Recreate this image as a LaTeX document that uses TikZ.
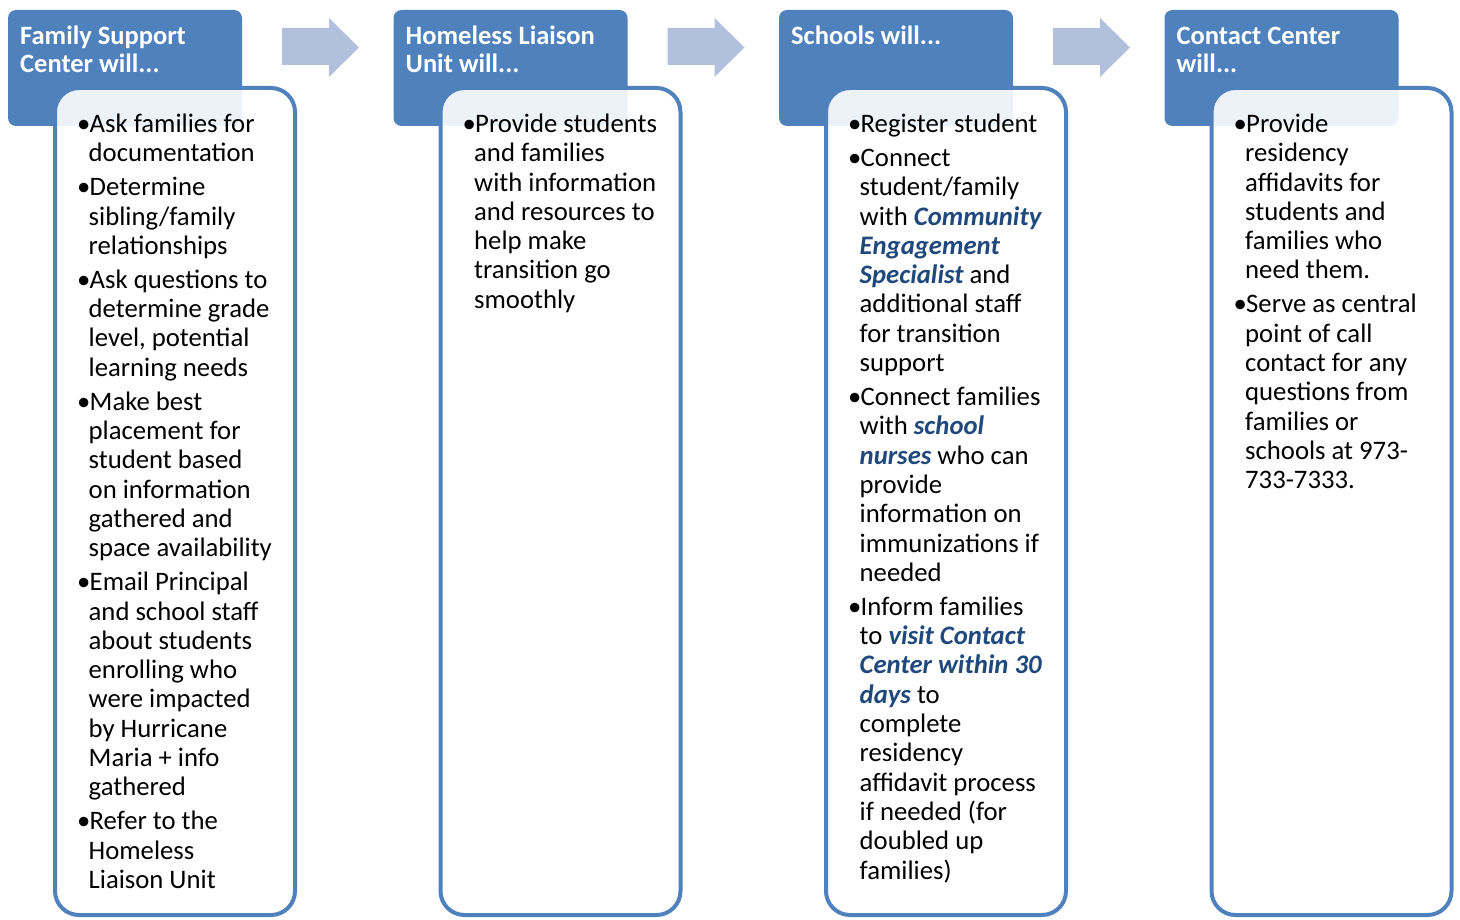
\documentclass[tikz,border=0pt]{standalone}
\usepackage{fontspec}
\setmainfont{Carlito}
\usepackage{tikz}

\definecolor{hdrblue}{HTML}{4F81BD}
\definecolor{arrblue}{HTML}{B1C1DD}
\definecolor{keyblue}{HTML}{1F497D}

\newcommand{\key}[1]{{\color{keyblue}\bfseries\itshape #1}}
\newcommand{\bul}[1]{\par\hangindent=11.5pt\hangafter=1\noindent\makebox[12.5pt][l]{\textbullet}#1\par}
\newcommand{\steps}[1]{\parbox[t]{260pt}{\fontsize{26.7}{29.3}\selectfont\parskip=4.7pt #1}}
\newcommand{\hdrtxt}[1]{\parbox[t]{230pt}{\fontsize{26.5}{28}\selectfont\bfseries #1}}

\tikzset{
  hdr/.style={rectangle,fill=hdrblue,rounded corners=8pt,minimum width=234pt,
    minimum height=116pt,anchor=north west,inner sep=0pt,outer sep=0pt},
  stepbox/.style={rectangle,draw=hdrblue,line width=4pt,fill=white,fill opacity=0.9,
    rounded corners=24pt,minimum width=240pt,minimum height=827pt,anchor=north west,
    inner sep=0pt,outer sep=0pt},
  hdrlabel/.style={anchor=base west,inner sep=0pt,text=white},
  steplist/.style={anchor=base west,inner sep=0pt,text=black},
  flow/.style={fill=arrblue}
}

\begin{document}
\begin{tikzpicture}[x=1pt,y=-1pt]
\useasboundingbox (0,0) rectangle (1460,920);
% family support center
\path (8,10) node[hdr] (fsc) {};
\path (55,88) node[stepbox] (fscbox) {};
\path (20,45) node[hdrlabel] (fsclabel) {\hdrtxt{Family Support\newline Center will...}};
\path (77,132.5) node[steplist] (fsclist) {\steps{%
\bul{Ask families for\newline documentation}
\bul{Determine\newline sibling/family\newline relationships}
\bul{Ask questions to\newline determine grade\newline level, potential\newline learning needs}
\bul{Make best\newline placement for\newline student based\newline on information\newline gathered and\newline space availability}
\bul{Email Principal\newline and school staff\newline about students\newline enrolling who\newline were impacted\newline by Hurricane\newline Maria + info\newline gathered}
\bul{Refer to the\newline Homeless\newline Liaison Unit}}};
\fill[flow] (282,28) -- (329,28) -- (329,18) -- (359,47.5) -- (329,77) -- (329,65) -- (282,65) -- cycle;
% homeless liaison unit
\path (393.5,10) node[hdr] (hlu) {};
\path (440.5,88) node[stepbox] (hlubox) {};
\path (405.5,45) node[hdrlabel] (hlulabel) {\hdrtxt{Homeless Liaison\newline Unit will...}};
\path (462.5,132.5) node[steplist] (hlulist) {\steps{%
\bul{Provide students\newline and families\newline with information\newline and resources to\newline help make\newline transition go\newline smoothly}}};
\fill[flow,xshift=385.5pt] (282,28) -- (329,28) -- (329,18) -- (359,47.5) -- (329,77) -- (329,65) -- (282,65) -- cycle;
% schools
\path (779,10) node[hdr] (sch) {};
\path (826,88) node[stepbox] (schbox) {};
\path (791,45) node[hdrlabel] (schlabel) {\hdrtxt{Schools will...}};
\path (848,132.5) node[steplist] (schlist) {\steps{%
\bul{Register student}
\bul{Connect\newline student/family\newline with \key{Community}\newline \key{Engagement}\newline \key{Specialist} and\newline additional staff\newline for transition\newline support}
\bul{Connect families\newline with \key{school}\newline \key{nurses} who can\newline provide\newline information on\newline immunizations if\newline needed}
\bul{Inform families\newline to \key{visit Contact}\newline \key{Center within 30}\newline \key{days} to\newline complete\newline residency\newline affidavit process\newline if needed (for\newline doubled up\newline families)}}};
\fill[flow,xshift=771pt] (282,28) -- (329,28) -- (329,18) -- (359,47.5) -- (329,77) -- (329,65) -- (282,65) -- cycle;
% contact center
\path (1164.5,10) node[hdr] (cc) {};
\path (1211.5,88) node[stepbox] (ccbox) {};
\path (1176.5,45) node[hdrlabel] (cclabel) {\hdrtxt{Contact Center\newline will...}};
\path (1233.5,132.5) node[steplist] (cclist) {\steps{%
\bul{Provide\newline residency\newline affidavits for\newline students and\newline families who\newline need them.}
\bul{Serve as central\newline point of call\newline contact for any\newline questions from\newline families or\newline schools at 973-\newline 733-7333.}}};
\end{tikzpicture}
\end{document}
